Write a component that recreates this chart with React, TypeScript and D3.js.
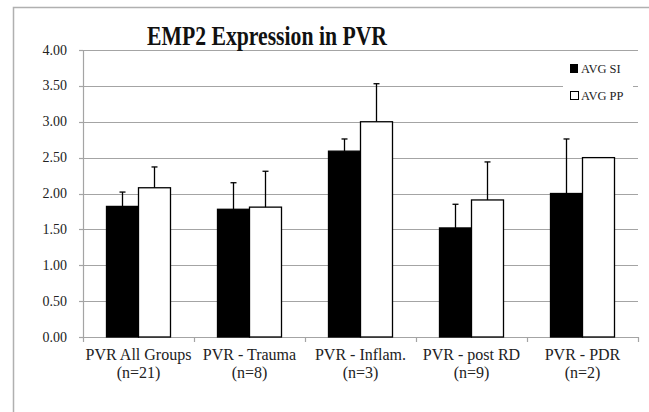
import React from 'react';
import * as d3 from 'd3';

const groups = ['PVR All Groups', 'PVR - Trauma', 'PVR - Inflam.', 'PVR - post RD', 'PVR - PDR'];
const counts = ['(n=21)', '(n=8)', '(n=3)', '(n=9)', '(n=2)'];
const seriesNames = ['AVG SI', 'AVG PP'];
const avgSI = [1.82, 1.78, 2.59, 1.52, 2.0];
const errSI = [0.2, 0.37, 0.17, 0.33, 0.76];
const avgPP = [2.08, 1.81, 3.0, 1.91, 2.5];
const errPP = [0.29, 0.5, 0.53, 0.53, 0];
const yTicks = [0, 0.5, 1, 1.5, 2, 2.5, 3, 3.5, 4];

const W = 649;
const H = 412;
const font = "'Liberation Serif'";

export default function App() {
  // plot area
  const left = 83, right = 638, top = 50, bottom = 337;

  const x0 = d3.scaleBand<string>().domain(groups).range([left, right]).paddingInner(0).paddingOuter(0);
  const x1 = d3.scaleBand<string>().domain(seriesNames).range([0, 64]);
  const y = d3.scaleLinear().domain([0, 4]).range([bottom, top]);
  const gridColor = '#a4a4a4';

  const series = [
    { name: 'AVG SI', vals: avgSI, errs: errSI, fill: '#000' },
    { name: 'AVG PP', vals: avgPP, errs: errPP, fill: '#fff' },
  ];

  const bw = x1.bandwidth();
  const boundaries = [left, ...groups.map(g => (x0(g) as number) + x0.bandwidth())];
  const txt = { fontFamily: font };

  return (
    <svg width={W} height={H} style={{ position: 'absolute', left: 0, top: 0, background: '#fff' }}>
      <rect x={0} y={0} width={W} height={H} fill="#fff" />
      {/* outer chart frame */}
      <rect x={13.5} y={7.5} width={700} height={500} fill="none" stroke="#b0b0b0" strokeWidth={1.5} />

      {/* gridlines + y ticks */}
      {yTicks.map(t => (
        <g key={t}>
          {t > 0 && <line x1={left} x2={right} y1={Math.round(y(t)) + 0.5} y2={Math.round(y(t)) + 0.5} stroke={gridColor} strokeWidth={1.2} />}
          <line x1={left - 4} x2={left} y1={Math.round(y(t)) + 0.5} y2={Math.round(y(t)) + 0.5} stroke={gridColor} strokeWidth={1.2} />
          <text x={67} y={y(t) + 4.5} textAnchor="end" style={txt} fontSize={14} fill="#222">{t.toFixed(2)}</text>
        </g>
      ))}

      {/* axes */}
      <line x1={left + 0.5} x2={left + 0.5} y1={top} y2={bottom} stroke={gridColor} strokeWidth={1.2} />
      <line x1={left} x2={right} y1={bottom + 0.5} y2={bottom + 0.5} stroke={gridColor} strokeWidth={1.2} />
      {boundaries.map((b, i) => (
        <line key={i} x1={b + 0.5} x2={b + 0.5} y1={bottom} y2={bottom + 5} stroke={gridColor} strokeWidth={1.2} />
      ))}

      {/* bars */}
      {series.map(s => (
        <g key={s.name}>
          {groups.map((g, i) => {
            const gx = (x0(g) as number) + (x0.bandwidth() - 64) / 2 + (x1(s.name) as number);
            const cx = gx + bw / 2;
            const yt = y(s.vals[i]);
            const ye = y(s.vals[i] + s.errs[i]);
            return (
              <g key={g}>
                <rect x={gx} y={yt} width={bw} height={bottom - yt} fill={s.fill} stroke="#000" strokeWidth={1.3} />
                {s.errs[i] > 0 && (
                  <g stroke="#000" strokeWidth={1.3}>
                    <line x1={cx} x2={cx} y1={yt} y2={ye} />
                    <line x1={cx - 3} x2={cx + 3} y1={ye} y2={ye} />
                  </g>
                )}
              </g>
            );
          })}
        </g>
      ))}

      {/* category labels */}
      {groups.map((g, i) => {
        const cx = (x0(g) as number) + x0.bandwidth() / 2;
        return (
          <g key={g} style={txt} fontSize={16} fill="#222" textAnchor="middle">
            <text x={cx} y={360}>{g}</text>
            <text x={cx} y={378}>{counts[i]}</text>
          </g>
        );
      })}

      {/* legend */}
      <rect x={563} y={58} width={70} height={46} fill="#fff" />
      <rect x={570} y={64} width={8} height={9} fill="#000" />
      <text x={581} y={73} style={txt} fontSize={12.5} fill="#222">{seriesNames[0]}</text>
      <rect x={570.5} y={91.5} width={8} height={8} fill="#fff" stroke="#000" strokeWidth={1} />
      <text x={581} y={100} style={txt} fontSize={12.5} fill="#222">{seriesNames[1]}</text>

      {/* title */}
      <text x={267} y={45} textAnchor="middle" style={txt} fontWeight="bold" fontSize={27} fill="#111"
        textLength={240} lengthAdjust="spacingAndGlyphs">
        EMP2 Expression in PVR
      </text>
    </svg>
  );
}
